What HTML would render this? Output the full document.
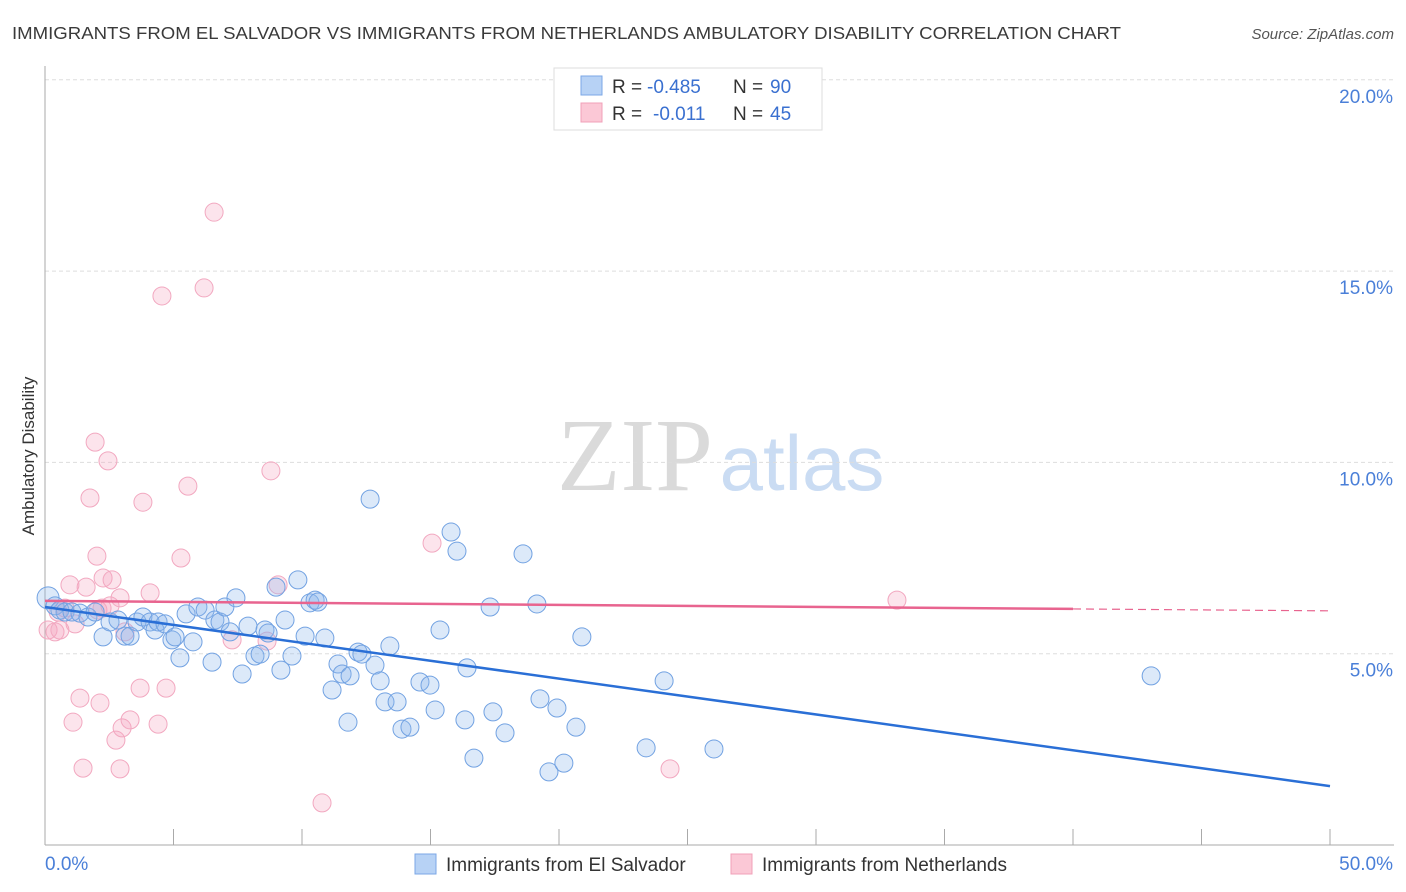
<!DOCTYPE html>
<html><head><meta charset="utf-8"><style>
body{margin:0;background:#fff;font-family:"Liberation Sans",sans-serif;}
#wrap{position:relative;width:1406px;height:892px;overflow:hidden;}
</style></head><body>
<div id="wrap">
<svg id="svg" width="1406" height="892" xmlns="http://www.w3.org/2000/svg">
<text x="12" y="39" font-size="17.5" fill="#3a3a3a" textLength="1109" lengthAdjust="spacingAndGlyphs">IMMIGRANTS FROM EL SALVADOR VS IMMIGRANTS FROM NETHERLANDS AMBULATORY DISABILITY CORRELATION CHART</text>
<text x="1394" y="39" font-size="15" fill="#555" text-anchor="end" font-style="italic">Source: ZipAtlas.com</text>
<text x="34" y="456" font-size="17" fill="#333" text-anchor="middle" transform="rotate(-90 34 456)">Ambulatory Disability</text>
<g><text x="635" y="490" font-size="104" fill="#dadada" text-anchor="middle" font-family="Liberation Serif,serif">ZIP</text><text x="802" y="490" font-size="78" fill="#cadcf3" text-anchor="middle">atlas</text></g>
<g id="grid"></g><g id="axes"></g><g id="pts"></g><g id="lines"></g>
<g>
<rect x="554" y="68" width="268" height="62" fill="#fff" stroke="#ddd"/>
<rect x="581" y="76" width="21" height="19" fill="#b7d2f5" stroke="#7ba7e6"/>
<rect x="581" y="103" width="21" height="19" fill="#fbc8d6" stroke="#f0a0b8"/>
<text x="612" y="93" font-size="19" fill="#333">R =</text><text x="647" y="93" font-size="19" fill="#3a70d0">-0.485</text>
<text x="733" y="93" font-size="19" fill="#333">N =</text><text x="770" y="93" font-size="19" fill="#3a70d0">90</text>
<text x="612" y="120" font-size="19" fill="#333">R =</text><text x="653" y="120" font-size="19" fill="#3a70d0">-0.011</text>
<text x="733" y="120" font-size="19" fill="#333">N =</text><text x="770" y="120" font-size="19" fill="#3a70d0">45</text>
</g>
<g>
<rect x="415" y="854" width="21" height="20" fill="#b7d2f5" stroke="#7ba7e6"/>
<text x="446" y="871" font-size="19" fill="#333">Immigrants from El Salvador</text>
<rect x="731" y="854" width="21" height="20" fill="#fbc8d6" stroke="#f0a0b8"/>
<text x="762" y="871" font-size="19" fill="#333">Immigrants from Netherlands</text>
</g>
</svg>
</div>
<script>
const blueX=[0.12,0.39,0.58,0.78,1.05,1.36,1.67,1.95,2.26,2.53,2.84,3.11,3.31,3.58,3.81,4.09,4.28,4.40,4.67,4.94,5.06,5.25,5.49,5.76,5.95,6.23,6.50,6.61,6.81,7.00,7.20,7.43,7.67,7.90,8.17,8.37,8.56,8.68,8.99,9.18,9.34,9.61,9.84,10.12,10.31,10.51,10.62,10.89,11.17,11.40,11.56,11.79,11.87,12.18,12.33,12.65,12.84,13.04,13.23,13.42,13.70,13.89,14.20,14.59,14.98,15.18,15.37,15.80,16.03,16.34,16.42,16.69,17.32,17.43,17.90,18.60,19.14,19.26,19.61,19.92,20.19,20.66,20.89,23.39,24.09,26.03,43.04];
const blueY=[6.46,6.25,6.14,6.09,6.09,6.06,5.96,6.09,5.44,5.83,5.88,5.46,5.46,5.83,5.96,5.83,5.62,5.83,5.78,5.36,5.44,4.89,6.04,5.31,6.22,6.14,4.78,5.88,5.83,6.22,5.57,6.46,4.47,5.72,4.94,4.99,5.62,5.54,6.74,4.57,5.88,4.94,6.93,5.46,6.33,6.40,6.35,5.41,4.05,4.73,4.47,3.21,4.42,5.04,4.99,9.04,4.70,4.29,3.74,5.20,3.74,3.03,3.08,4.26,4.18,3.53,5.62,8.18,7.68,3.27,4.63,2.27,6.22,3.48,2.93,7.61,6.30,3.82,1.91,3.58,2.14,3.08,5.44,2.54,4.29,2.51,4.42];
const pinkX=[0.12,0.39,0.58,0.78,0.97,1.17,1.36,1.09,1.48,1.60,1.75,1.95,2.02,2.06,2.14,2.26,2.45,2.53,2.76,2.92,3.00,3.11,3.31,3.70,3.81,4.09,4.40,4.55,4.71,5.29,5.56,6.19,6.58,7.28,8.64,8.79,9.07,10.78,15.06,24.32,33.15,2.22,2.61,0.51,2.92];
const pinkY=[5.62,5.57,5.62,6.19,6.80,5.78,3.84,3.21,2.01,6.74,9.07,10.53,7.55,6.14,3.71,6.98,10.04,6.25,2.74,1.99,3.06,5.57,3.27,4.10,8.96,6.59,3.16,14.35,4.10,7.50,9.38,14.56,16.54,5.36,5.33,9.78,6.80,1.10,7.89,1.99,6.40,6.19,6.93,6.09,6.46];
const blueTrend=[[0,6.22],[50,1.54]];
const pinkTrend=[[0,6.38],[40,6.17],[50,6.12]];
const yTicks=[5,10,15,20];
const yTickLabels=["5.0%","10.0%","15.0%","20.0%"];
const xTicks=[0,5,10,15,20,25,30,35,40,45,50];
const X=v=>45+v*25.7, Y=v=>845-v*38.26;
const NS="http://www.w3.org/2000/svg";
function mk(t,a,p){const e=document.createElementNS(NS,t);for(const k in a)e.setAttribute(k,a[k]);p.appendChild(e);return e;}
const grid=document.getElementById('grid'),axes=document.getElementById('axes'),pts=document.getElementById('pts'),lines=document.getElementById('lines');
yTicks.forEach((t,i)=>{
 const l=mk('line',{x1:45,x2:1394,y1:Y(t),y2:Y(t),stroke:'#ddd','stroke-dasharray':'4,3'},grid);
 
 
 const tx=mk('text',{x:1393,y:Y(t)+23,'font-size':19,fill:'#4a7fd8','text-anchor':'end'},axes);
 tx.textContent=yTickLabels[i];
 
 
});
const ya=mk('line',{x1:45,x2:45,y1:66,y2:845,stroke:'#aaa'},axes);


const xa=mk('line',{x1:45,x2:1394,y1:845,y2:845,stroke:'#aaa'},axes);


xTicks.forEach(t=>{
 const l=mk('line',{x1:X(t),x2:X(t),y1:829,y2:845,stroke:'#aaa'},axes);
 
 
});
const x0=mk('text',{x:45,y:870,'font-size':19,fill:'#4a7fd8'},axes);x0.textContent="0.0%";


const x1=mk('text',{x:1393,y:870,'font-size':19,fill:'#4a7fd8','text-anchor':'end'},axes);x1.textContent="50.0%";


pinkX.forEach((v,i)=>{
 const c=mk('circle',{cx:X(v),cy:Y(pinkY[i]),r:9,fill:'rgba(246,165,192,0.3)',stroke:'#f2a8c0','stroke-width':1},pts);
 
 
});
blueX.forEach((v,i)=>{
 const c=mk('circle',{cx:X(v),cy:Y(blueY[i]),r:i==0?11:9,fill:'rgba(140,182,236,0.3)',stroke:'#72a2e2','stroke-width':1},pts);
 
 
});
const bl=mk('line',{x1:X(blueTrend[0][0]),y1:Y(blueTrend[0][1]),x2:X(blueTrend[1][0]),y2:Y(blueTrend[1][1]),stroke:'#2a6fd6','stroke-width':2.5},lines);


const pl=mk('line',{x1:X(pinkTrend[0][0]),y1:Y(pinkTrend[0][1]),x2:X(pinkTrend[1][0]),y2:Y(pinkTrend[1][1]),stroke:'#e8648f','stroke-width':2.5},lines);


const pd=mk('line',{x1:X(pinkTrend[1][0]),y1:Y(pinkTrend[1][1]),x2:X(pinkTrend[2][0]),y2:Y(pinkTrend[2][1]),stroke:'#e8648f','stroke-width':1.2,'stroke-dasharray':'8,5'},lines);


</script>
</body></html>
